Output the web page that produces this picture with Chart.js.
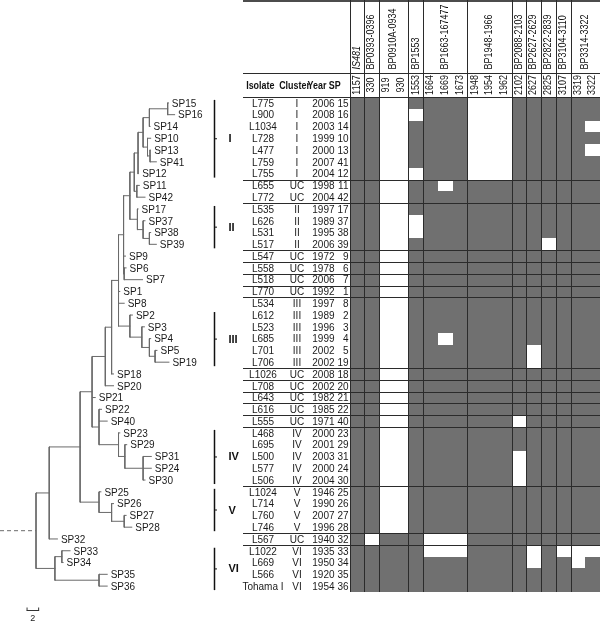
<!DOCTYPE html>
<html>
<head>
<meta charset="utf-8">
<script src="https://cdn.jsdelivr.net/npm/chart.js@4.4.1/dist/chart.umd.min.js"></script>
<style>
html,body{margin:0;padding:0;background:#ffffff;}
canvas{display:block;}
</style>
</head>
<body>
<canvas id="chart" width="600" height="624"></canvas>
<script>
// ================= DATA =================
const isolates = ['L775','L900','L1034','L728','L477','L759','L755','L655','L772','L535','L626','L531','L517','L547','L558','L518','L770','L534','L612','L523','L685','L701','L706','L1026','L708','L643','L616','L555','L468','L695','L500','L577','L506','L1024','L714','L760','L746','L567','L1022','L669','L566','Tohama I'];
const clusters = ['I','I','I','I','I','I','I','UC','UC','II','II','II','II','UC','UC','UC','UC','III','III','III','III','III','III','UC','UC','UC','UC','UC','IV','IV','IV','IV','IV','V','V','V','V','UC','VI','VI','VI','VI'];
const years = [2006,2008,2003,1999,2000,2007,2004,1998,2004,1997,1989,1995,2006,1972,1978,2006,1992,1997,1989,1996,1999,2002,2002,2008,2002,1982,1985,1971,2000,2001,2003,2000,2004,1946,1990,2007,1996,1940,1935,1950,1920,1954];
const spNumbers = [15,16,14,10,13,41,12,11,42,17,37,38,39,9,6,7,1,8,2,3,4,5,19,18,20,21,22,40,23,29,31,24,30,25,26,27,28,32,33,34,35,36];

// genomic positions (matrix columns) and the regions they belong to
const columnPositions = ['1157','330','919','930','1553','1664','1669','1673','1948','1954','1962','2102','2627','2825','3107','3319','3322'];
const regionNames = ['IS481','BP0393-0396','BP0910A-0934','BP1553','BP1663-167477','BP1948-1966','BP2088-2103','BP2627-2629','BP2822-2839','BP3104-3110','BP3314-3322'];
const regionItalic = [true,false,false,false,false,false,false,false,false,false,false];
const regionFirstCol = [0,1,2,4,5,8,11,12,13,14,15];
const regionLastCol  = [0,1,3,4,7,10,11,12,13,14,16];

// presence (1 = present / grey) of each column, per isolate row
const presence = [
  '11001111000111111','11000111000111111','11001111000111110','11001111000111111',
  '11001111000111110','11001111000111111','11000111000111111','11001101111111111',
  '11001111111111111','11001111111111111','11000111111111111','11000111111111111',
  '11001111111110111','11001111111111111','11001111111111111','11001111111111111',
  '11001111111111111','11001111111111111','11001111111111111','11001111111111111',
  '11001101111111111','11001111111101111','11001111111101111','11001111111111111',
  '11001111111111111','11001111111111111','11001111111111111','11001111111011111',
  '11001111111111111','11001111111111111','11001111111011111','11001111111011111',
  '11001111111011111','11001111111111111','11001111111111111','11001111111111111',
  '11001111111111111','10111000111111111','11111000111101000','11111111111101101',
  '11111111111111111','11111111111111111'
];
// table rules drawn below these rows
const ruleAfterRow = [6,8,12,13,14,15,16,22,23,24,25,26,27,32,36,37];

// phylogenetic tree: depth (substitution units) of each SP tip, in row order
const leafDepth = [21.0,22.0,18.1,18.2,18.2,19.1,16.3,16.4,17.3,16.2,17.3,18.2,19.1,14.2,14.3,16.9,13.3,14.0,15.3,17.2,18.2,19.2,21.1,12.3,12.3,9.4,10.4,11.3,13.3,14.4,18.3,18.3,17.3,10.3,12.3,14.3,15.2,3.4,5.4,4.3,11.3,11.3];
const treeNodes = ['R','A','B','C','F','H','K','L','L67','M','N','I','I2','I3','A15','I5','I4','N2','II','II2','II3','III','III2','III3','III4','G','IV','IV2','IV3','V','V2','V3','VI','VIa','VIb'];
const treeNodeDepth = [0,2.1,7.0,8.9,11.0,12.0,13.1,13.9,14.0,14.9,15.6,16.2,17.0,18.0,20.9,17.7,18.1,16.0,16.1,17.0,18.0,14.9,16.8,18.0,18.9,10.0,13.1,14.1,17.0,10.0,12.0,14.0,3.0,4.1,10.0];
const treeNodeChildren = [
  ['A','VI'],['B','SP32'],['C','V'],['F','SP21','G'],['H','SP20'],['K','SP18'],
  ['L','SP1','SP8','III'],['M','SP9','L67'],['SP6','SP7'],['N','II'],['I','N2'],
  ['I2','SP12'],['I3','I5'],['A15','SP14'],['SP15','SP16'],['SP10','I4'],['SP13','SP41'],
  ['SP11','SP42'],['SP17','II2'],['SP37','II3'],['SP38','SP39'],
  ['SP2','III2'],['SP3','III3'],['SP4','III4'],['SP5','SP19'],
  ['SP22','SP40','IV'],['SP23','IV2'],['SP29','IV3'],['SP31','SP24','SP30'],
  ['SP25','V2'],['SP26','V3'],['SP27','SP28'],
  ['VIa','VIb'],['SP33','SP34'],['SP35','SP36']
];
const outgroupStem = 5.71;
const scaleBarLength = 2;

// cluster brackets
const clusterNames = ['I','II','III','IV','V','VI'];
const clusterFirstRow = [0,9,18,28,33,38];
const clusterLastRow  = [6,12,22,32,36,41];

// ================= LAYOUT / STYLE =================
const W = 600;
const PX_PER_UNIT = 6.3, ROOT_PX = 36;
const MAT_LEFT = 349.5, NCOL = columnPositions.length;
const COL_W = (W - MAT_LEFT) / NCOL;
const FONT = '"Liberation Sans", Arial, Helvetica, sans-serif';
const CELL = '#707070';
const RULE = '#2b2b2b';
const TEXT = '#1a1a1a';

// ================= TREE GEOMETRY (from data) =================
const leafRow = {};
spNumbers.forEach((n, r) => { leafRow['SP' + n] = r; });
const nodeIdx = {};
treeNodes.forEach((n, i) => { nodeIdx[n] = i; });
function nodeInfo(name) {
  if (name in leafRow) return { d: leafDepth[leafRow[name]], y: leafRow[name] };
  const i = nodeIdx[name];
  const ys = treeNodeChildren[i].map(c => nodeInfo(c).y);
  return { d: treeNodeDepth[i], y: (Math.min(...ys) + Math.max(...ys)) / 2 };
}
const treeLine = [];
treeNodes.forEach((n, i) => {
  const d = treeNodeDepth[i];
  const ch = treeNodeChildren[i].map(nodeInfo);
  const ys = ch.map(c => c.y);
  treeLine.push({ x: d, y: Math.min(...ys) }, { x: d, y: Math.max(...ys) }, { x: NaN, y: NaN });
  ch.forEach(c => treeLine.push({ x: d, y: c.y }, { x: c.d, y: c.y }, { x: NaN, y: NaN }));
});
const rootRow = nodeInfo('R').y;

// ================= DRAWING HELPERS =================
function rotText(ctx, text, x, y, align, font, sx) {
  ctx.save();
  ctx.translate(x, y);
  ctx.rotate(-Math.PI / 2);
  ctx.scale(sx, 1);
  ctx.font = font;
  ctx.textAlign = align;
  ctx.textBaseline = 'middle';
  ctx.fillText(text, 0, 0);
  ctx.restore();
}
function hline(ctx, x0, x1, y, w, color) {
  ctx.beginPath(); ctx.lineWidth = w; ctx.strokeStyle = color;
  ctx.moveTo(x0, y); ctx.lineTo(x1, y); ctx.stroke();
}
function vline(ctx, x, y0, y1, w, color) {
  ctx.beginPath(); ctx.lineWidth = w; ctx.strokeStyle = color;
  ctx.moveTo(x, y0); ctx.lineTo(x, y1); ctx.stroke();
}

const tablePlugin = {
  id: 'tablePlugin',
  beforeDatasetsDraw(chart) {
    const ctx = chart.ctx, xm = chart.scales.xMat, ys = chart.scales.y;
    ctx.save();
    ctx.fillStyle = CELL;
    presence.forEach((row, r) => {
      const y0 = Math.round(ys.getPixelForValue(r - 0.5));
      const y1 = Math.round(ys.getPixelForValue(r + 0.5));
      for (let c = 0; c < row.length; c++) {
        if (row[c] === '1') {
          const x0 = Math.round(xm.getPixelForValue(c));
          const x1 = Math.round(xm.getPixelForValue(c + 1));
          ctx.fillRect(x0, y0, x1 - x0, y1 - y0);
        }
      }
    });
    ctx.restore();
  },
  afterDatasetsDraw(chart) {
    const ctx = chart.ctx, xm = chart.scales.xMat, ys = chart.scales.y, xt = chart.scales.xTree;
    const area = chart.chartArea;
    const TABLE_LEFT = 243;
    const headTop = 1, numTop = area.top - 24, headBottom = Math.round(area.top) + 0.5;
    ctx.save();

    // horizontal rules
    hline(ctx, TABLE_LEFT, W, headTop, 1.5, '#111');
    hline(ctx, TABLE_LEFT, W, numTop + 0.5, 1, RULE);
    hline(ctx, TABLE_LEFT, W, headBottom, 1, RULE);
    ruleAfterRow.forEach(r => {
      const y = Math.round(ys.getPixelForValue(r + 0.5)) + 0.5;
      hline(ctx, TABLE_LEFT, W, y, 1, RULE);
    });
    // vertical region separators
    regionFirstCol.forEach(c => {
      const x = Math.round(xm.getPixelForValue(c)) + 0.5;
      vline(ctx, x, 0, area.bottom, 1, RULE);
    });

    // header: region names (rotated)
    ctx.fillStyle = '#111';
    regionNames.forEach((name, k) => {
      const cx = (xm.getPixelForValue(regionFirstCol[k]) + xm.getPixelForValue(regionLastCol[k] + 1)) / 2;
      const font = (regionItalic[k] ? 'italic ' : '') + '10px ' + FONT;
      rotText(ctx, name, cx, numTop - 3.5, 'left', font, 0.9);
    });
    // header: column positions (rotated)
    columnPositions.forEach((p, c) => {
      const cx = xm.getPixelForValue(c + 0.5);
      rotText(ctx, p, cx, (numTop + area.top) / 2, 'center', '10px ' + FONT, 0.9);
    });
    // header: table column titles
    const heads = [['Isolate', 260.3], ['Cluster', 294.5], ['Year', 317], ['SP', 334.7]];
    heads.forEach(([t, x]) => {
      ctx.save();
      ctx.translate(x, (numTop + area.top) / 2 + 1);
      ctx.scale(0.85, 1);
      ctx.font = 'bold 10.5px ' + FONT;
      ctx.textAlign = 'center';
      ctx.textBaseline = 'middle';
      ctx.fillText(t, 0, 0);
      ctx.restore();
    });

    // table rows
    ctx.fillStyle = TEXT;
    ctx.font = '10px ' + FONT;
    ctx.textBaseline = 'middle';
    isolates.forEach((iso, r) => {
      const y = ys.getPixelForValue(r) + 1;
      ctx.textAlign = 'center';
      ctx.fillText(iso, 263, y);
      ctx.fillText(clusters[r], 297, y);
      ctx.textAlign = 'right';
      ctx.fillText(String(years[r]), 334.5, y);
      ctx.fillText(String(spNumbers[r]), 348.5, y);
    });

    // tree tip labels
    ctx.textAlign = 'left';
    spNumbers.forEach((n, r) => {
      const x = xt.getPixelForValue(leafDepth[r]) + 3.5;
      ctx.fillText('SP' + n, x, ys.getPixelForValue(r) + 1);
    });

    // cluster brackets
    clusterNames.forEach((name, k) => {
      const y0 = ys.getPixelForValue(clusterFirstRow[k]) - 3;
      const y1 = ys.getPixelForValue(clusterLastRow[k]) + 4;
      vline(ctx, 214.5, y0, y1, 1.5, '#111');
      hline(ctx, 214.5, 217, (y0 + y1) / 2, 1, '#111');
      ctx.fillStyle = '#111';
      ctx.font = 'bold 11px ' + FONT;
      ctx.textAlign = 'left';
      ctx.fillText(name, 228.5, (y0 + y1) / 2 + 0.5);
    });

    // scale bar
    const sb0 = xt.getPixelForValue(-1.5), sb1 = xt.getPixelForValue(-1.5 + scaleBarLength);
    const sby = 610.5;
    hline(ctx, sb0, sb1, sby, 1, '#333');
    vline(ctx, sb0 + 0.5, sby - 3, sby, 1, '#333');
    vline(ctx, sb1 - 0.5, sby - 3, sby, 1, '#333');
    ctx.fillStyle = '#222';
    ctx.font = '9px ' + FONT;
    ctx.textAlign = 'center';
    ctx.fillText(String(scaleBarLength), (sb0 + sb1) / 2, 618.5);

    ctx.restore();
  }
};

new Chart(document.getElementById('chart'), {
  type: 'scatter',
  data: {
    datasets: [
      {
        label: 'tree',
        data: treeLine,
        xAxisID: 'xTree', yAxisID: 'y',
        showLine: true, spanGaps: false,
        borderColor: '#6a6a6a', borderWidth: 1,
        pointRadius: 0, pointHoverRadius: 0,
        borderCapStyle: 'square'
      },
      {
        label: 'outgroup',
        data: [{ x: -outgroupStem, y: rootRow }, { x: 0, y: rootRow }],
        xAxisID: 'xTree', yAxisID: 'y',
        showLine: true,
        borderColor: '#6a6a6a', borderWidth: 1, borderDash: [4, 3],
        pointRadius: 0, pointHoverRadius: 0
      }
    ]
  },
  options: {
    responsive: false,
    animation: false,
    devicePixelRatio: 1,
    layout: { padding: { top: 97, bottom: 32, left: 0, right: 0 } },
    plugins: { legend: { display: false }, tooltip: { enabled: false } },
    events: [],
    scales: {
      x: { type: 'linear', display: false },
      xTree: { type: 'linear', axis: 'x', display: false, min: -ROOT_PX / PX_PER_UNIT, max: (W - ROOT_PX) / PX_PER_UNIT },
      xMat: { type: 'linear', axis: 'x', display: false, min: -MAT_LEFT / COL_W, max: NCOL },
      y: { type: 'linear', display: false, min: -0.5, max: isolates.length - 0.5, reverse: true }
    }
  },
  plugins: [tablePlugin]
});
</script>
</body>
</html>
